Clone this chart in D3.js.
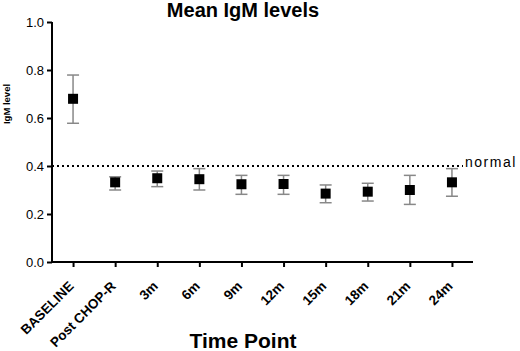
<!DOCTYPE html>
<meta charset="utf-8">
<style>
    body { margin: 0; background: #fff; }
    .chart text { font-family: "Liberation Sans", Arial, sans-serif; fill: #000; }
</style>
<svg class="chart"></svg>
<script src="https://d3js.org/d3.v7.min.js" charset="utf-8"></script>
<script>

    var categories = ["BASELINE", "Post CHOP-R", "3m", "6m", "9m", "12m", "15m", "18m", "21m", "24m"];
    var means = [0.68, 0.332, 0.349, 0.345, 0.324, 0.325, 0.285, 0.293, 0.300, 0.332];
    var upper = [0.779, 0.355, 0.379, 0.389, 0.361, 0.361, 0.321, 0.328, 0.361, 0.389];
    var lower = [0.578, 0.300, 0.314, 0.300, 0.282, 0.282, 0.247, 0.254, 0.240, 0.274];
    var yTicks = [0.0, 0.2, 0.4, 0.6, 0.8, 1.0];
    var normalLevel = 0.4;

    var width = 520,
        height = 351;

    var x = d3.scalePoint()
        .domain(categories)
        .range([52, 473])
        .padding(0.5);

    var y = d3.scaleLinear()
        .domain([0, 1])
        .range([262, 22]);

    var chart = d3.select(".chart")
        .attr("width", width)
        .attr("height", height);

    var data = categories.map(function(c, i) {
        return { name: c, mean: means[i], hi: upper[i], lo: lower[i] };
    });

    // y axis
    var yAxis = chart.append("g")
        .attr("transform", "translate(52,0)")
        .call(d3.axisLeft(y).tickValues(yTicks).tickFormat(d3.format(".1f")).tickSize(5).tickPadding(3));
    yAxis.select(".domain").attr("stroke", "#000").attr("stroke-width", 2)
        .attr("d", "M0," + y(1) + "V" + y(0));
    yAxis.selectAll(".tick line").attr("stroke-width", 2);
    yAxis.selectAll(".tick text").style("font-size", "13px");

    // x axis
    var xAxis = chart.append("g")
        .attr("transform", "translate(0,262)")
        .call(d3.axisBottom(x).tickSize(5).tickSizeOuter(0));
    xAxis.select(".domain").attr("stroke", "#000").attr("stroke-width", 2)
        .attr("d", "M52,0H473");
    xAxis.selectAll(".tick line").attr("stroke-width", 2);
    xAxis.selectAll(".tick text")
        .style("font-size", "13.5px")
        .style("font-weight", "bold")
        .attr("text-anchor", "end")
        .attr("dy", 0)
        .attr("y", 0)
        .attr("x", 0)
        .attr("transform", "translate(1,25) rotate(-45)");

    // normal reference line
    chart.append("line")
        .attr("x1", 52)
        .attr("x2", 463)
        .attr("y1", y(normalLevel))
        .attr("y2", y(normalLevel))
        .attr("stroke", "#000")
        .attr("stroke-width", 2)
        .attr("stroke-dasharray", "2,3");
    chart.append("text")
        .attr("x", 465)
        .attr("y", y(normalLevel) + 1)
        .style("font-size", "14px")
        .style("letter-spacing", "1.5px")
        .text("normal");

    // error bars
    var pt = chart.selectAll("g.pt")
        .data(data)
        .enter().append("g")
        .attr("class", "pt")
        .attr("transform", function(d) { return "translate(" + x(d.name) + ",0)"; });

    pt.append("line")
        .attr("y1", function(d) { return y(d.hi); })
        .attr("y2", function(d) { return y(d.lo); })
        .attr("stroke", "#888")
        .attr("stroke-width", 1.5);
    pt.append("line")
        .attr("x1", -6).attr("x2", 6)
        .attr("y1", function(d) { return y(d.hi); })
        .attr("y2", function(d) { return y(d.hi); })
        .attr("stroke", "#888")
        .attr("stroke-width", 1.5);
    pt.append("line")
        .attr("x1", -6).attr("x2", 6)
        .attr("y1", function(d) { return y(d.lo); })
        .attr("y2", function(d) { return y(d.lo); })
        .attr("stroke", "#888")
        .attr("stroke-width", 1.5);
    pt.append("rect")
        .attr("x", -5)
        .attr("y", function(d) { return y(d.mean) - 5; })
        .attr("width", 10)
        .attr("height", 10)
        .attr("fill", "#000");

    // titles
    chart.append("text")
        .attr("x", 243)
        .attr("y", 17)
        .attr("text-anchor", "middle")
        .style("font-size", "20px")
        .style("font-weight", "bold")
        .text("Mean IgM levels");

    chart.append("text")
        .attr("x", 243)
        .attr("y", 348)
        .attr("text-anchor", "middle")
        .style("font-size", "21px")
        .style("font-weight", "bold")
        .text("Time Point");

    chart.append("text")
        .attr("transform", "translate(10,104) rotate(-90)")
        .attr("text-anchor", "middle")
        .style("font-size", "9.5px")
        .style("font-weight", "bold")
        .text("IgM level");

</script>
